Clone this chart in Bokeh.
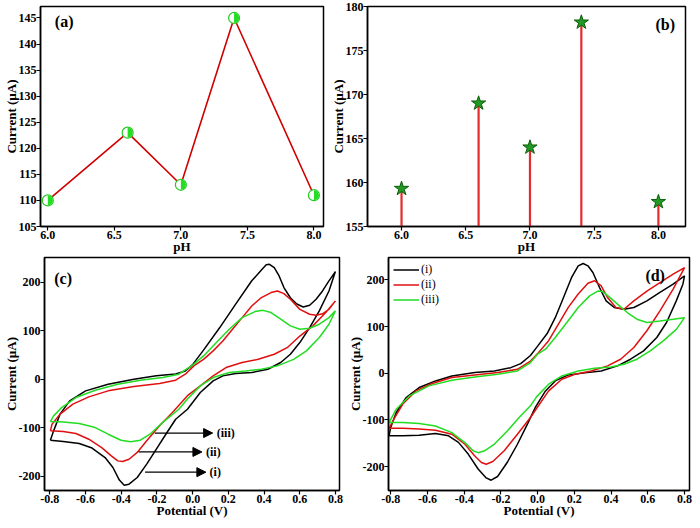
import math
from bokeh.plotting import figure
from bokeh.layouts import column, row
from bokeh.models import Range1d, FixedTicker, PrintfTickFormatter, Arrow, NormalHead
from bokeh.embed import file_html
from bokeh.resources import INLINE
from bokeh.core.properties import value

FONT = "Liberation Serif"

# ---------------- data ----------------
ph = [6.0, 6.6, 7.0, 7.4, 8.0]
current_a = [110, 123, 113, 145, 111]
current_b = [159.3, 169.0, 164.0, 178.2, 157.8]

# panel (c) cyclic voltammograms (closed loops)
c_i_x = [-0.796, -0.778, -0.742, -0.688, -0.599, -0.473, -0.329, -0.203, -0.095, -0.041, 0.0, 0.061, 0.151,
         0.241, 0.331, 0.385, 0.412, 0.43, 0.457, 0.484, 0.511, 0.547, 0.583, 0.619, 0.655, 0.691, 0.727,
         0.763, 0.799,
         0.763, 0.709, 0.655, 0.6, 0.547, 0.493, 0.421, 0.331, 0.241, 0.169, 0.115, 0.043, -0.029, -0.095,
         -0.149, -0.203, -0.257, -0.31, -0.356, -0.383, -0.41, -0.446, -0.49, -0.563, -0.635, -0.724, -0.796]
c_i_y = [-125.8, -106.5, -72, -44.6, -24, -10.3, 0, 7, 11, 17, 30, 60, 106, 155, 203, 225, 236, 237, 230, 213,
         189, 168, 155, 149, 152.6, 165, 182, 202.7, 222,
         182, 141, 106.5, 75.6, 51.5, 34.4, 20.6, 13.7, 11.7, 6.9, -3.4, -27.5, -61.9, -82.5,
         -113, -144, -175, -202.7, -216.5, -218.6, -208, -182, -161.5, -142, -132.6, -128.5, -125.8]

c_ii_x = [-0.796, -0.787, -0.742, -0.67, -0.581, -0.473, -0.329, -0.185, -0.095, -0.041, 0.007, 0.061, 0.115,
          0.169, 0.223, 0.277, 0.331, 0.385, 0.439, 0.475, 0.511, 0.547, 0.6, 0.655, 0.691, 0.727, 0.763, 0.799,
          0.745, 0.673, 0.6, 0.529, 0.457, 0.367, 0.277, 0.187, 0.115, 0.043, -0.029, -0.113, -0.185,
          -0.257, -0.31, -0.356, -0.392, -0.419, -0.455, -0.509, -0.581, -0.653, -0.724, -0.796]
c_ii_y = [-106.5, -92.8, -72, -51.5, -36.4, -24, -15, -9, -2, 10.3, 27.5, 41, 58.4, 79, 103, 127, 151, 168.4,
          178.7, 182, 176.6, 165, 144, 134, 132, 135, 144, 161.5,
          137.5, 110, 89, 65, 51.5, 41, 34.4, 24, 6.9, -13.7, -34, -68.7, -96,
          -127, -151, -165, -169.8, -168.4, -158, -141, -123.7, -112, -108, -106.5]

c_iii_x = [-0.796, -0.778, -0.733, -0.653, -0.545, -0.419, -0.293, -0.167, -0.077, 0.007, 0.061, 0.133,
           0.205, 0.277, 0.349, 0.394, 0.439, 0.493, 0.547, 0.6, 0.655, 0.709, 0.763, 0.799,
           0.763, 0.709, 0.637, 0.565, 0.475, 0.385, 0.295, 0.205, 0.115, 0.043, -0.029, -0.077, -0.167,
           -0.239, -0.293, -0.347, -0.401, -0.473, -0.545, -0.635, -0.724, -0.796]
c_iii_y = [-87.3, -75.6, -58.4, -37.8, -22.7, -10.3, -2, 3.4, 10.3, 31, 48, 75.6, 103, 127, 139.5, 142, 137.5,
           123.7, 110, 103, 105, 113.4, 127, 141,
           113.4, 86, 58.4, 41, 27.5, 20.6, 17, 13.7, 3.4, -13.7, -41, -61.9, -89,
           -113.4, -125.8, -129, -125.8, -113.4, -99.7, -91.5, -88, -87.3]

# panel (d) cyclic voltammograms (closed loops)
d_i_x = [-0.809, -0.8, -0.77, -0.716, -0.645, -0.556, -0.467, -0.342, -0.235, -0.146, -0.092, -0.039, 0.0,
         0.052, 0.096, 0.141, 0.185, 0.221, 0.248, 0.274, 0.301, 0.337, 0.373, 0.417, 0.47, 0.524, 0.595,
         0.666, 0.738, 0.8,
         0.791, 0.755, 0.702, 0.649, 0.577, 0.506, 0.435, 0.346, 0.257, 0.167, 0.096, 0.043, -0.011,
         -0.057, -0.11, -0.164, -0.218, -0.253, -0.28, -0.324, -0.378, -0.431, -0.485, -0.556, -0.645,
         -0.734, -0.809]
d_i_y = [-134, -116, -84, -52, -30.6, -16.4, -5.7, 1.4, 5, 12, 20.7, 38, 58, 85, 119, 162, 205, 230, 235,
         230, 215.7, 183.6, 155, 140.7, 137, 140.7, 155, 173, 190.7, 208.6,
         190.7, 155, 108.6, 76.5, 47.9, 30, 15.8, 5, 0.8, -3.6, -16.4, -37.8, -72,
         -110, -152, -190, -221, -229, -224, -205, -173, -148, -134, -129, -132.6,
         -134, -134]

d_ii_x = [-0.809, -0.778, -0.734, -0.663, -0.574, -0.467, -0.342, -0.217, -0.11, -0.039, 0.0, 0.06, 0.114,
          0.167, 0.221, 0.274, 0.31, 0.346, 0.381, 0.426, 0.47, 0.524, 0.595, 0.666, 0.738, 0.8,
          0.738, 0.666, 0.595, 0.524, 0.452, 0.381, 0.292, 0.203, 0.132, 0.06, -0.005, -0.039, -0.11,
          -0.182, -0.244, -0.28, -0.306, -0.342, -0.396, -0.467, -0.556, -0.645, -0.734, -0.809]
d_ii_y = [-117.6, -94.9, -66, -37.8, -22, -9.2, -3.6, 1.4, 8.5, 26, 42, 69.7, 105.6, 141, 169.6, 192.6, 198,
          187, 162, 140.7, 137, 155, 176, 194, 212, 226,
          180, 133.6, 91, 55, 30, 15.8, 5, -2, -12.8, -37.8, -75, -94.9, -130.4,
          -166, -189, -194.7, -191, -177, -152, -130.4, -121.8, -119.6, -118, -117.6]

d_iii_x = [-0.809, -0.77, -0.698, -0.592, -0.467, -0.342, -0.217, -0.11, -0.039, 0.0, 0.043, 0.096, 0.159,
           0.221, 0.283, 0.328, 0.354, 0.39, 0.435, 0.488, 0.541, 0.595, 0.666, 0.738, 0.8,
           0.755, 0.684, 0.613, 0.541, 0.47, 0.399, 0.31, 0.221, 0.132, 0.06, -0.005, -0.039, -0.092,
           -0.164, -0.235, -0.289, -0.324, -0.351, -0.396, -0.467, -0.556, -0.645, -0.734, -0.809]
d_iii_y = [-105.5, -77, -48.5, -27, -14.9, -7.8, -2, 5, 22.9, 41, 51.5, 76.5, 108.6, 140.7, 165.6, 176,
           174.9, 163.6, 148, 130, 115.7, 108.6, 112, 115.7, 119,
           94, 69.3, 47.9, 30, 19.3, 13.6, 10.8, 5, -5.7, -23.5, -50, -69.7, -91,
           -123, -151.6, -166, -170, -166, -148.5, -127, -112.8, -107.8, -105.5, -105.5]

legend_labels = ["(i)", "(ii)", "(iii)"]
curve_colors = ["#000000", "#e01010", "#22dd22"]

# arrows in (c): start x, end x, y, label x
arrow_x0 = [-0.212, -0.302, -0.266]
arrow_x1 = [0.112, 0.052, 0.074]
arrow_y = [-111, -150, -191.7]
arrow_text_x = [0.135, 0.075, 0.095]
arrow_text = ["(iii)", "(ii)", "(i)"]

x_ticks_ph = [6.0, 6.5, 7.0, 7.5, 8.0]
y_ticks_a = [105, 110, 115, 120, 125, 130, 135, 140, 145]
y_ticks_b = [155, 160, 165, 170, 175, 180]
x_ticks_cv = [-0.8, -0.6, -0.4, -0.2, 0.0, 0.2, 0.4, 0.6, 0.8]
y_ticks_cv = [-200, -100, 0, 100, 200]


def make_fig(w, h, xr, yr, bl, br, bt, bb):
    p = figure(width=w, height=h, x_range=Range1d(*xr), y_range=Range1d(*yr),
               output_backend="svg", toolbar_location=None,
               min_border_left=bl, min_border_right=br, min_border_top=bt, min_border_bottom=bb)
    p.background_fill_color = "white"
    p.border_fill_color = "white"
    p.outline_line_color = "black"
    p.outline_line_width = 1.5
    p.outline_line_alpha = 1.0
    p.grid.visible = False
    return p


def style_axes(p, xticks, yticks, xfmt, xlabel, ylabel):
    p.xaxis.ticker = FixedTicker(ticks=xticks)
    p.yaxis.ticker = FixedTicker(ticks=yticks)
    p.xaxis.formatter = PrintfTickFormatter(format=xfmt)
    p.yaxis.formatter = PrintfTickFormatter(format="%d")
    p.xaxis.axis_label = xlabel
    p.yaxis.axis_label = ylabel
    for ax in (p.xaxis[0], p.yaxis[0]):
        ax.axis_line_color = "black"
        ax.axis_line_width = 1.5
        ax.major_tick_line_color = "black"
        ax.major_tick_line_width = 1.2
        ax.major_tick_out = 4
        ax.major_tick_in = 0
        ax.minor_tick_line_color = None
        ax.major_label_text_font = FONT
        ax.major_label_text_font_style = "bold"
        ax.major_label_text_font_size = "12px"
        ax.major_label_text_color = "black"
        ax.major_label_standoff = 0
        ax.axis_label_text_font = FONT
        ax.axis_label_text_font_style = "bold"
        ax.axis_label_text_font_size = "13px"
        ax.axis_label_text_color = "black"
        ax.axis_label_standoff = -3


def panel_label(p, x, y, txt):
    p.text(x=[x], y=[y], text=[txt], text_font=value(FONT), text_font_style="bold",
           text_font_size="16px", text_align="center", text_baseline="middle", text_color="black")


# ---------------- (a) ----------------
fa = make_fig(327, 256, (5.945, 8.072), (105, 147.2), 28, 4, 2, 30)
style_axes(fa, x_ticks_ph, y_ticks_a, "%.1f", "pH", "Current (µA)")
fa.line(ph, current_a, line_color="#d00000", line_width=1.6)
fa.scatter(ph, current_a, size=11, marker="circle", fill_color="white", line_color="#22cc22", line_width=1.2)
fa.wedge(x=ph, y=current_a, radius=5, radius_units="screen", start_angle=-math.pi / 2,
         end_angle=math.pi / 2, fill_color="#22dd22", line_color=None)
panel_label(fa, 6.123, 144.3, "(a)")

# ---------------- (b) ----------------
fb = make_fig(365, 256, (5.735, 8.211), (155, 180), 36, 7, 6, 30)
style_axes(fb, x_ticks_ph, y_ticks_b, "%.1f", "pH", "Current (µA)")
fb.segment(x0=ph, y0=[155] * len(ph), x1=ph, y1=current_b, line_color="#e52b2b", line_width=2.2)
fb.scatter(ph, current_b, size=15, marker="star", fill_color="#229922", line_color="#0b5e0b", line_width=1)
panel_label(fb, 8.053, 177.93, "(b)")

# ---------------- (c) ----------------
fc = make_fig(344, 264, (-0.829, 0.822), (-229.5, 251), 30, 5, 1, 30)
style_axes(fc, x_ticks_cv, y_ticks_cv, "%.1f", "Potential (V)", "Current (µA)")
for xs, ys, col in zip([c_i_x, c_ii_x, c_iii_x], [c_i_y, c_ii_y, c_iii_y], curve_colors):
    fc.line(xs, ys, line_color=col, line_width=1.5)
for x0, x1, y in zip(arrow_x0, arrow_x1, arrow_y):
    fc.add_layout(Arrow(x_start=x0, y_start=y, x_end=x1, y_end=y, line_color="black", line_width=1.3,
                        end=NormalHead(size=9, fill_color="black", line_color="black")))
fc.text(x=arrow_text_x, y=arrow_y, text=arrow_text, text_font=value(FONT), text_font_style="bold",
        text_font_size="12px", text_align="left", text_baseline="middle", text_color="black")
panel_label(fc, -0.7245, 208.7, "(c)")

# ---------------- (d) ----------------
fd = make_fig(348, 264, (-0.812, 0.827), (-251, 247.8), 36, 3, 1, 30)
style_axes(fd, x_ticks_cv, y_ticks_cv, "%.1f", "Potential (V)", "Current (µA)")
for xs, ys, col, lab in zip([d_i_x, d_ii_x, d_iii_x], [d_i_y, d_ii_y, d_iii_y], curve_colors, legend_labels):
    fd.line(xs, ys, line_color=col, line_width=1.5, legend_label=lab)
fd.legend.location = "top_left"
fd.legend.border_line_color = None
fd.legend.background_fill_alpha = 0
fd.legend.label_text_font = FONT
fd.legend.label_text_font_size = "12px"
fd.legend.label_text_color = "black"
fd.legend.glyph_width = 26
fd.legend.glyph_height = 13
fd.legend.label_height = 13
fd.legend.spacing = 0
fd.legend.padding = 2
fd.legend.margin = 5
fd.legend.label_standoff = 2
panel_label(fd, 0.64, 209, "(d)")

layout = column(row(fa, fb), row(fc, fd))
open("out.html", "w").write(file_html(layout, INLINE))
